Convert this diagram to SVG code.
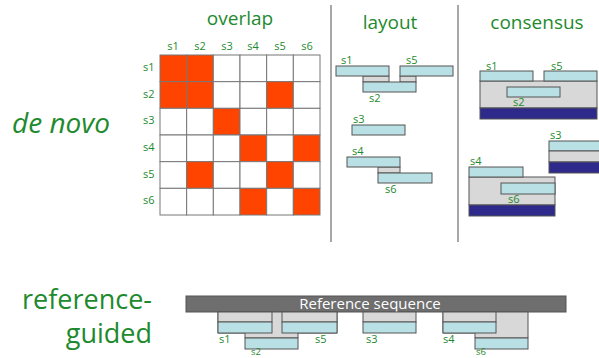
<svg xmlns="http://www.w3.org/2000/svg" width="599" height="358" viewBox="0 0 599 358">
<style>
text{font-family:"Open Sans","DejaVu Sans",sans-serif;fill:#1e8a2e}
.t{font-size:19px}
.l{font-size:11px}
.big{font-size:27px}
.c{fill:#fff;stroke:#777;stroke-width:1}
.r{fill:#ff4400;stroke:#777;stroke-width:1}
.b{fill:#b9e0e4;stroke:#555;stroke-width:1}
.g{fill:#d8d8d8;stroke:#555;stroke-width:1}
.d{fill:#2e2a8c;stroke:#555;stroke-width:1}
.div{stroke:#8a8a8a;stroke-width:1.5}
</style>
<rect width="599" height="358" fill="#fff"/>
<g id="labels">
<text x="12" y="133" style="font-size:28px;font-style:italic">de novo</text>
<text x="152" y="309" class="big" text-anchor="end">reference-</text>
<text x="152" y="343" class="big" text-anchor="end">guided</text>
</g>
<g id="dividers">
<line class="div" x1="331" y1="5" x2="331" y2="242"/>
<line class="div" x1="458" y1="5" x2="458" y2="242"/>
</g>
<g id="overlap">
<text x="240" y="25" class="t" text-anchor="middle">overlap</text>
<g class="l" text-anchor="middle">
<text x="173" y="50" class="l">s1</text><text x="200" y="50" class="l">s2</text><text x="227" y="50" class="l">s3</text><text x="253" y="50" class="l">s4</text><text x="280" y="50" class="l">s5</text><text x="307" y="50" class="l">s6</text>
</g>
<text x="143" y="71" class="l">s1</text><text x="143" y="98" class="l">s2</text><text x="143" y="124" class="l">s3</text><text x="143" y="151" class="l">s4</text><text x="143" y="178" class="l">s5</text><text x="143" y="204" class="l">s6</text>
<g>
<rect class="r" x="160" y="55" width="26.67" height="26.67"/><rect class="r" x="186.67" y="55" width="26.67" height="26.67"/><rect class="c" x="213.33" y="55" width="26.67" height="26.67"/><rect class="c" x="240" y="55" width="26.67" height="26.67"/><rect class="c" x="266.67" y="55" width="26.67" height="26.67"/><rect class="c" x="293.33" y="55" width="26.67" height="26.67"/>
<rect class="r" x="160" y="81.67" width="26.67" height="26.67"/><rect class="r" x="186.67" y="81.67" width="26.67" height="26.67"/><rect class="c" x="213.33" y="81.67" width="26.67" height="26.67"/><rect class="c" x="240" y="81.67" width="26.67" height="26.67"/><rect class="r" x="266.67" y="81.67" width="26.67" height="26.67"/><rect class="c" x="293.33" y="81.67" width="26.67" height="26.67"/>
<rect class="c" x="160" y="108.33" width="26.67" height="26.67"/><rect class="c" x="186.67" y="108.33" width="26.67" height="26.67"/><rect class="r" x="213.33" y="108.33" width="26.67" height="26.67"/><rect class="c" x="240" y="108.33" width="26.67" height="26.67"/><rect class="c" x="266.67" y="108.33" width="26.67" height="26.67"/><rect class="c" x="293.33" y="108.33" width="26.67" height="26.67"/>
<rect class="c" x="160" y="135" width="26.67" height="26.67"/><rect class="c" x="186.67" y="135" width="26.67" height="26.67"/><rect class="c" x="213.33" y="135" width="26.67" height="26.67"/><rect class="r" x="240" y="135" width="26.67" height="26.67"/><rect class="c" x="266.67" y="135" width="26.67" height="26.67"/><rect class="r" x="293.33" y="135" width="26.67" height="26.67"/>
<rect class="c" x="160" y="161.67" width="26.67" height="26.67"/><rect class="r" x="186.67" y="161.67" width="26.67" height="26.67"/><rect class="c" x="213.33" y="161.67" width="26.67" height="26.67"/><rect class="c" x="240" y="161.67" width="26.67" height="26.67"/><rect class="r" x="266.67" y="161.67" width="26.67" height="26.67"/><rect class="c" x="293.33" y="161.67" width="26.67" height="26.67"/>
<rect class="c" x="160" y="188.33" width="26.67" height="26.67"/><rect class="c" x="186.67" y="188.33" width="26.67" height="26.67"/><rect class="c" x="213.33" y="188.33" width="26.67" height="26.67"/><rect class="r" x="240" y="188.33" width="26.67" height="26.67"/><rect class="c" x="266.67" y="188.33" width="26.67" height="26.67"/><rect class="r" x="293.33" y="188.33" width="26.67" height="26.67"/>
</g>
</g>
<g id="layout">
<text x="390" y="29" class="t" text-anchor="middle">layout</text>
<rect class="g" x="363" y="76" width="26" height="6"/>
<rect class="g" x="400" y="76" width="16" height="6"/>
<rect class="b" x="336" y="66" width="53" height="10"/>
<rect class="b" x="400" y="66" width="53" height="10"/>
<rect class="b" x="363" y="82" width="53" height="10"/>
<text x="341" y="64" class="l">s1</text><text x="406" y="64" class="l">s5</text><text x="369" y="102" class="l">s2</text>
<rect class="b" x="352" y="125" width="53" height="10"/>
<text x="353" y="123" class="l">s3</text>
<rect class="g" x="378" y="167" width="22" height="6"/>
<rect class="b" x="347" y="157" width="53" height="10"/>
<rect class="b" x="378" y="173" width="54" height="10"/>
<text x="352" y="155" class="l">s4</text><text x="385" y="193" class="l">s6</text>
</g>
<g id="consensus">
<text x="537" y="29" class="t" text-anchor="middle">consensus</text>
<rect class="g" x="480" y="81" width="117" height="27"/>
<rect class="b" x="480" y="71" width="53" height="10"/>
<rect class="b" x="544" y="71" width="53" height="10"/>
<rect class="b" x="507" y="87" width="53" height="10"/>
<rect class="d" x="480" y="108" width="117" height="11"/>
<text x="486" y="70" class="l">s1</text><text x="551" y="70" class="l">s5</text><text x="513" y="106" class="l">s2</text>
<rect class="b" x="549" y="141" width="53" height="10"/>
<rect class="g" x="549" y="151" width="53" height="11"/>
<rect class="d" x="549" y="162" width="53" height="11"/>
<text x="550" y="139" class="l">s3</text>
<rect class="g" x="469" y="177" width="86" height="28"/>
<rect class="b" x="469" y="167" width="54" height="10"/>
<rect class="b" x="501" y="183" width="54" height="11"/>
<rect class="d" x="469" y="205" width="86" height="11"/>
<text x="470" y="165" class="l">s4</text><text x="508" y="203" class="l">s6</text>
</g>
<g id="reference">
<rect x="186" y="296" width="380" height="16" fill="#6e6e6e" stroke="#555"/>
<text x="370" y="309" style="font-size:15px;fill:#fff" text-anchor="middle">Reference sequence</text>
<polygon class="g" points="218,312 337,312 337,333 298,333 298,338 245,338 245,333 218,333"/>
<rect class="g" x="218" y="312" width="54" height="10"/>
<rect class="g" x="282" y="312" width="55" height="10"/>
<rect class="b" x="218" y="322" width="54" height="11"/>
<rect class="b" x="282" y="322" width="55" height="11"/>
<rect class="b" x="245" y="338" width="53" height="11"/>
<text x="219" y="343" class="l">s1</text><text x="315" y="343" class="l">s5</text><text x="251" y="354.5" class="l" style="font-size:9.5px">s2</text>
<rect class="g" x="363" y="312" width="53" height="10"/>
<rect class="b" x="363" y="322" width="53" height="11"/>
<text x="366" y="343" class="l">s3</text>
<polygon class="g" points="443,312 528,312 528,338 475,338 475,333 443,333"/>
<rect class="g" x="443" y="312" width="53" height="10"/>
<rect class="b" x="443" y="322" width="53" height="11"/>
<rect class="b" x="475" y="338" width="53" height="11"/>
<text x="443" y="343" class="l">s4</text><text x="476" y="354.5" class="l" style="font-size:9.5px">s6</text>
</g>
</svg>
